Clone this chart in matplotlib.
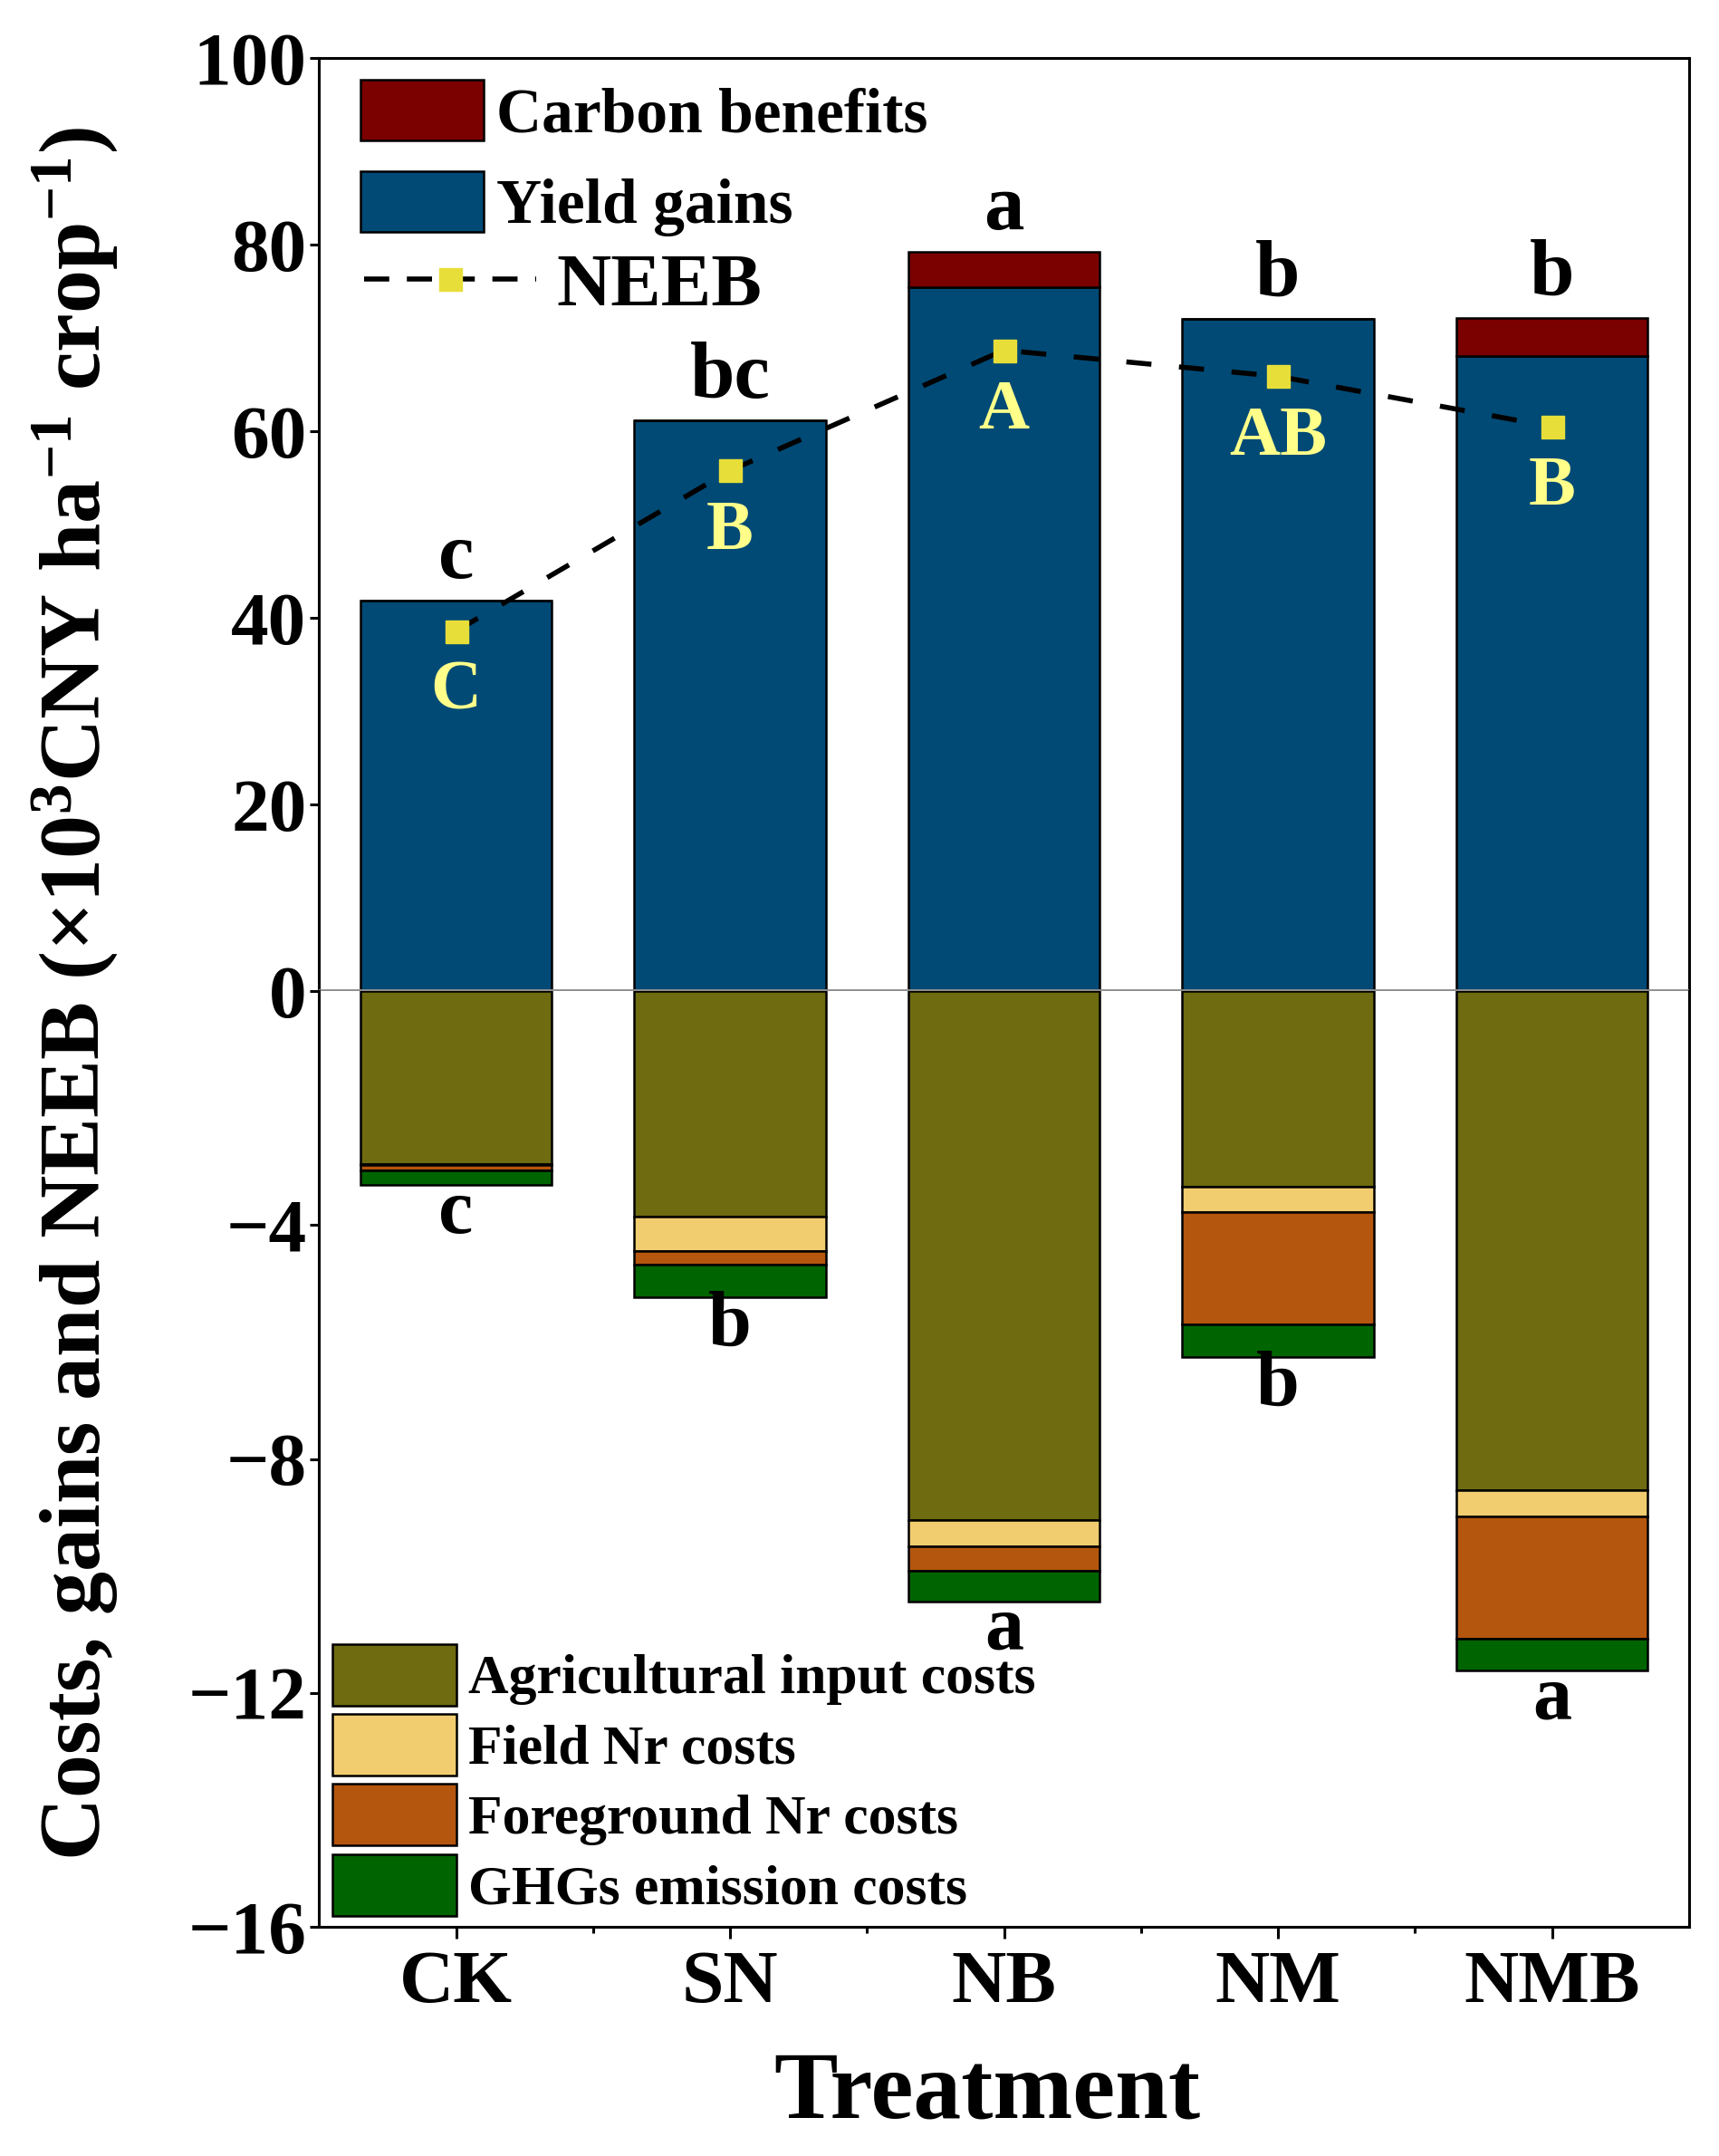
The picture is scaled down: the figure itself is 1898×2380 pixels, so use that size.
import numpy as np
import matplotlib
matplotlib.use("Agg")
from matplotlib import pyplot as plt
from matplotlib.patches import Patch
from matplotlib.lines import Line2D

# datos
treatments = ['CK', 'SN', 'NB', 'NM', 'NMB']
yield_gains = [41.9, 61.2, 75.5, 72.1, 68.1]
carbon_benefits = [0.0, 0.0, 3.7, 0.0, 4.1]
agri_costs = [2.96, 3.86, 9.05, 3.35, 8.54]
field_nr = [0.02, 0.58, 0.45, 0.43, 0.45]
fore_nr = [0.08, 0.24, 0.41, 1.92, 2.08]
ghg_costs = [0.26, 0.56, 0.53, 0.55, 0.55]
neeb = [38.6, 55.8, 68.7, 65.9, 60.5]
gain_letters = ['c', 'bc', 'a', 'b', 'b']
cost_letters = ['c', 'b', 'a', 'b', 'a']
neeb_letters = ['C', 'B', 'A', 'AB', 'B']

c_carbon = '#7B0000'
c_yield = '#004A75'
c_agri = '#6E6B10'
c_field = '#F2CD70'
c_fore = '#B4560E'
c_ghg = '#006400'
c_mark = '#E8DE3A'
c_neeb_txt = '#FFFF8A'

plt.rcParams['font.family'] = ['Liberation Serif', 'DejaVu Serif']
plt.rcParams['font.weight'] = 'bold'
plt.rcParams['mathtext.fontset'] = 'custom'
plt.rcParams['mathtext.rm'] = 'Liberation Serif:bold'
plt.rcParams['mathtext.bf'] = 'Liberation Serif:bold'
plt.rcParams['mathtext.default'] = 'bf'
plt.rcParams['axes.linewidth'] = 2.2

fig = plt.figure(figsize=(18.99, 23.80), dpi=100)
ax_top = fig.add_axes([0.1855, 0.5403, 0.7965, 0.4327])
ax_bot = fig.add_axes([0.1855, 0.1063, 0.7965, 0.4340])

x = np.arange(len(treatments))
w = 0.7
ekw = dict(edgecolor='black', linewidth=1.8)

# parte positiva
ax_top.bar(x, yield_gains, w, color=c_yield, **ekw)
ax_top.bar(x, carbon_benefits, w, bottom=yield_gains, color=c_carbon, **ekw)
ax_top.plot(x, neeb, color='black', lw=4, ls=(0, (5, 5.5)), marker='s',
            markersize=18, markerfacecolor=c_mark, markeredgecolor=c_mark, zorder=5)
ax_top.axhline(0, color='#8f8f8f', lw=2.8, zorder=6)

tops = np.array(yield_gains) + np.array(carbon_benefits)
for i in range(len(x)):
    ax_top.annotate(gain_letters[i], (x[i], tops[i]), xytext=(0, 18),
                    textcoords='offset points', ha='center', va='baseline',
                    fontsize=64, fontweight='bold')
    ax_top.annotate(neeb_letters[i], (x[i], neeb[i]), xytext=(0, -62),
                    textcoords='offset points', ha='center', va='baseline',
                    fontsize=56, fontweight='bold', color=c_neeb_txt, zorder=7)

ax_top.set_ylim(0, 100)
ax_top.set_xlim(-0.5, 4.5)
ax_top.set_yticks([0, 20, 40, 60, 80, 100])
ax_top.set_xticks([])
ax_top.spines['bottom'].set_visible(False)
ax_top.tick_params(axis='y', direction='out', length=7, width=2.2, pad=3, labelsize=60)

# parte negativa (costes)
agri = -np.array(agri_costs)
field = -np.array(field_nr)
fore = -np.array(fore_nr)
ghg = -np.array(ghg_costs)
ax_bot.bar(x, agri, w, color=c_agri, **ekw)
ax_bot.bar(x, field, w, bottom=agri, color=c_field, **ekw)
ax_bot.bar(x, fore, w, bottom=agri + field, color=c_fore, **ekw)
ax_bot.bar(x, ghg, w, bottom=agri + field + fore, color=c_ghg, **ekw)

bottoms = agri + field + fore + ghg
for i in range(len(x)):
    ax_bot.annotate(cost_letters[i], (x[i], bottoms[i]), xytext=(0, -38),
                    textcoords='offset points', ha='center', va='baseline',
                    fontsize=62, fontweight='bold')

ax_bot.set_ylim(-16, 0)
ax_bot.set_xlim(-0.5, 4.5)
ax_bot.set_yticks([-16, -12, -8, -4])
ax_bot.set_xticks(x)
ax_bot.set_xticklabels(treatments)
ax_bot.set_xticks([0.5, 1.5, 2.5, 3.5], minor=True)
ax_bot.spines['top'].set_visible(False)
ax_bot.tick_params(axis='y', direction='out', length=7, width=2.2, pad=3, labelsize=60)
ax_bot.tick_params(axis='x', which='major', direction='out', length=9, width=2.2,
                   pad=10, labelsize=60)
ax_bot.tick_params(axis='x', which='minor', direction='out', length=5, width=2.2)

# leyendas
h_top = [Patch(facecolor=c_carbon, edgecolor='black', linewidth=1.8),
         Patch(facecolor=c_yield, edgecolor='black', linewidth=1.8)]
leg1 = ax_top.legend(h_top, ['Carbon benefits', 'Yield gains'], loc='upper left',
                     bbox_to_anchor=(0.03, 0.977), frameon=False, borderpad=0,
                     borderaxespad=0, fontsize=50, handlelength=1.97,
                     handleheight=1.11, labelspacing=0.42, handletextpad=0.2)
ax_top.add_artist(leg1)
h_neeb = [Line2D([0], [0], color='black', lw=4, ls=(0, (5, 3.5)), marker='s',
                 markersize=18, markerfacecolor=c_mark, markeredgecolor=c_mark)]
ax_top.legend(h_neeb, ['NEEB'], loc='center left', bbox_to_anchor=(0.033, 0.755),
              frameon=False, borderpad=0, borderaxespad=0, fontsize=60,
              handlelength=2.28, handletextpad=0.27)

h_bot = [Patch(facecolor=c, edgecolor='black', linewidth=1.8)
         for c in [c_agri, c_field, c_fore, c_ghg]]
ax_bot.legend(h_bot, ['Agricultural input costs', 'Field Nr costs',
                      'Foreground Nr costs', 'GHGs emission costs'],
              loc='lower left', bbox_to_anchor=(0.01, 0.012), frameon=False,
              borderpad=0, borderaxespad=0, fontsize=44.4, handlelength=2.22,
              handleheight=1.32, labelspacing=0.15, handletextpad=0.2)

fig.text(0.044, 0.539, r'Costs, gains and NEEB ($\times$10$^{3}$CNY ha$^{-1}$ crop$^{-1}$)',
         rotation=90, ha='center', va='center', fontsize=69, fontweight='bold')
fig.text(0.574, 0.0286, 'Treatment', ha='center', va='center', fontsize=76,
         fontweight='bold')

plt.savefig('out.png', dpi=100)
